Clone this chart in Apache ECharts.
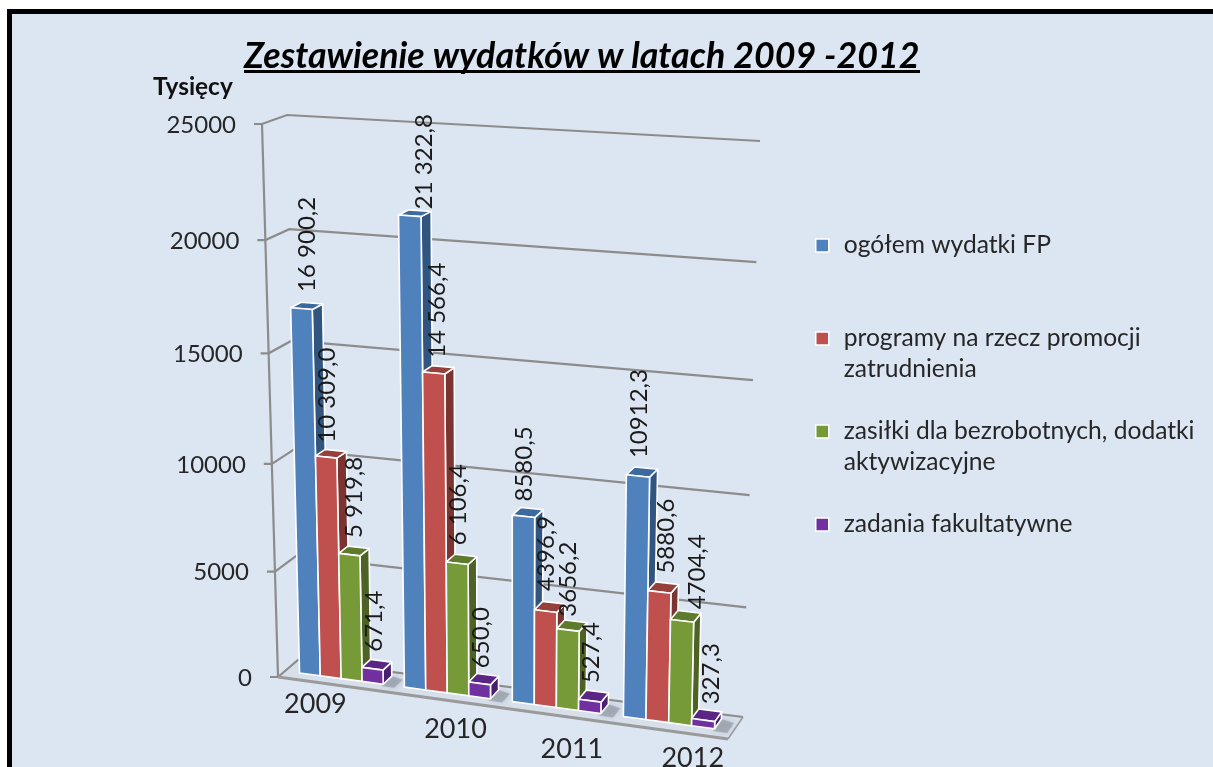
<!DOCTYPE html>
<html>
<head>
<meta charset="utf-8">
<title>Zestawienie wydatków</title>
<script src="https://cdn.jsdelivr.net/npm/echarts@6/dist/echarts.min.js"></script>
<style>
  html,body{margin:0;padding:0;background:#fff;overflow:hidden;}
  #chart{width:1213px;height:767px;}
</style>
</head>
<body>
<div id="chart"></div>
<script>
var years = ['2009', '2010', '2011', '2012'];
var yTicks = [0, 5000, 10000, 15000, 20000, 25000];

var ogolem = [16900.2, 21322.8, 8580.5, 10912.3];
var programy = [10309.0, 14566.4, 4396.9, 5880.6];
var zasilki = [5919.8, 6106.4, 3656.2, 4704.4];
var zadania = [671.4, 650.0, 527.4, 327.3];

var ogolemLabels = ['16 900,2', '21 322,8', '8580,5', '10912,3'];
var programyLabels = ['10 309,0', '14 566,4', '4396,9', '5880,6'];
var zasilkiLabels = ['5 919,8', '6 106,4', '3656,2', '4704,4'];
var zadaniaLabels = ['671,4', '650,0', '527,4', '327,3'];

var seriesNames = ['ogółem wydatki FP', 'programy na rzecz promocji zatrudnienia', 'zasiłki dla bezrobotnych, dodatki aktywizacyjne', 'zadania fakultatywne'];
var legendText = {
  'ogółem wydatki FP': '\nogółem wydatki FP\n ',
  'programy na rzecz promocji zatrudnienia': '\nprogramy na rzecz promocji\nzatrudnienia',
  'zasiłki dla bezrobotnych, dodatki aktywizacyjne': '\nzasiłki dla bezrobotnych, dodatki\naktywizacyjne',
  'zadania fakultatywne': '\nzadania fakultatywne\n '
};

var FONT = 'Lato';
var frontColor = ['#4F81BD', '#C0504D', '#769A38', '#7030A0'];
var topColor = ['#3C6A9E', '#96403D', '#5E7A2C', '#5A2585'];
var sideColor = ['#31557F', '#7C3432', '#4D6325', '#4A1F70'];

// the chart is a tilted box: unit square (u along the years, v up the values) -> picture
function makeQuad(bl, br, tr, tl) {
  var dx1 = br[0] - tr[0], dx2 = tl[0] - tr[0], sx = bl[0] - br[0] + tr[0] - tl[0];
  var dy1 = br[1] - tr[1], dy2 = tl[1] - tr[1], sy = bl[1] - br[1] + tr[1] - tl[1];
  var den = dx1 * dy2 - dx2 * dy1;
  var g = (sx * dy2 - dx2 * sy) / den, h = (dx1 * sy - sx * dy1) / den;
  var a = br[0] - bl[0] + g * br[0], b = tl[0] - bl[0] + h * tl[0], c = bl[0];
  var d = br[1] - bl[1] + g * br[1], e = tl[1] - bl[1] + h * tl[1], f = bl[1];
  return function (u, v) {
    var w = g * u + h * v + 1;
    return [(a * u + b * v + c) / w, (d * u + e * v + f) / w];
  };
}
var frontPlane = makeQuad([278, 677], [728, 739], [741, 154], [262, 124]);
var backPlane = makeQuad([298, 660], [743, 717], [760, 141], [287, 115]);

function project(u, v, depth) {
  var p = frontPlane(u, v), q = backPlane(u, v);
  return [p[0] + (q[0] - p[0]) * depth, p[1] + (q[1] - p[1]) * depth];
}
function toUnit(params, pt) {
  var cs = params.coordSys;
  return [(pt[0] - cs.x) / cs.width, (cs.y + cs.height - pt[1]) / cs.height];
}
// bars sit a little tighter than the floor
function squeeze(u) {
  return 0.4 + (u - 0.4) * 0.975;
}

var BAR_D0 = 0.35, BAR_D1 = 0.8;
// the labels and years were dragged by hand in the original
var yearShift = [[-16, -4], [15, 6], [19, 10], [24, 3]];
var labelShift = [
  [[1, 0], [9, 10], [-3, 3], [-3, 0]],
  [[-4, 3], [-1, 2], [-3, -2], [3, 0]],
  [[0, 1], [-3, 0], [-4, 5], [12, 7]],
  [[-2, 1], [-2, 3], [-2, 1], [5, 3]]
];

function poly(points, fill, stroke, lw, z2) {
  return {
    type: 'polygon', z2: z2 || 0,
    shape: { points: points },
    style: { fill: fill, stroke: stroke, lineWidth: lw, lineJoin: 'round' }
  };
}

function renderBar(params, api) {
  var s = params.seriesIndex - 2;
  var cat = api.value(0);
  var top = api.coord([cat, api.value(1)]);
  var band = api.size([1, 0])[0];
  var barW = band * 0.2;
  var left = toUnit(params, [top[0] + (s - 2) * barW, top[1]]);
  var right = toUnit(params, [top[0] + (s - 1) * barW, top[1]]);
  var u0 = squeeze(left[0]), u1 = squeeze(right[0]), v = left[1];
  var a = project(u0, 0, BAR_D0), b = project(u1, 0, BAR_D0);
  var c = project(u1, v, BAR_D0), d = project(u0, v, BAR_D0);
  var e = project(u1, 0, BAR_D1), f = project(u1, v, BAR_D1), g = project(u0, v, BAR_D1);
  var children = [];
  if (s === 3) {
    // soft shadow on the floor next to the last bar
    var g1 = project(u1, 0, BAR_D0 - 0.1), g2 = project(u1 + 0.03, 0, BAR_D0 - 0.1);
    var g3 = project(u1 + 0.03, 0, BAR_D1 - 0.1), g4 = project(u1, 0, BAR_D1);
    children.push({
      type: 'polygon', z2: -1,
      shape: { points: [g1, g2, g3, g4] },
      style: { fill: 'rgba(120,128,140,0.45)', shadowBlur: 5, shadowColor: 'rgba(120,128,140,0.6)' }
    });
  }
  children.push(poly([b, e, f, c], sideColor[s], '#fff', 1.6));
  children.push(poly([d, c, f, g], topColor[s], '#fff', 1.6));
  children.push(poly([a, b, c, d], frontColor[s], '#fff', 1.6));
  var anchor = project((u0 + u1) / 2, v, (BAR_D0 + BAR_D1) / 2);
  var shift = labelShift[s][cat];
  children.push({
    type: 'text', z2: 100,
    x: anchor[0] + shift[0], y: anchor[1] - 14 + shift[1], rotation: Math.PI / 2,
    style: {
      text: api.value(2), fill: '#1a1a1a', font: '24px ' + FONT,
      align: 'left', verticalAlign: 'middle'
    }
  });
  return { type: 'group', children: children };
}

function renderWall(params, api) {
  var val = api.value(1);
  var v = toUnit(params, api.coord([0, val]))[1];
  var p0 = project(0, v, 0), p1 = project(0, v, 1), p2 = project(1, v, 1);
  var children = [
    { type: 'polyline', shape: { points: [[p0[0] - 8, p0[1]], p0, p1, p2] }, style: { fill: 'none', stroke: '#8C8C8C', lineWidth: 2.2 } },
    {
      type: 'text', x: p0[0] - 26, y: p0[1] + 1,
      style: { text: String(val), fill: '#262626', font: '24px ' + FONT, align: 'right', verticalAlign: 'middle' }
    }
  ];
  if (val === 0) {
    var top = project(0, 1, 0);
    children.push({ type: 'line', shape: { x1: p0[0], y1: p0[1], x2: top[0], y2: top[1] }, style: { stroke: '#8C8C8C', lineWidth: 2.2 } });
    var fr = project(1, 0, 0), bk = project(1, 0, 1), bl = project(0, 0, 1);
    children.unshift(poly([p0, fr, bk, bl], '#D6DFEA', null, 0));
    children.push({ type: 'line', shape: { x1: fr[0], y1: fr[1], x2: bk[0], y2: bk[1] }, style: { stroke: '#9A9A9A', lineWidth: 1.5 } });
    children.push({ type: 'line', shape: { x1: p0[0], y1: p0[1], x2: fr[0], y2: fr[1] }, style: { stroke: '#9A9A9A', lineWidth: 3 } });
  }
  return { type: 'group', children: children };
}

function renderYear(params, api) {
  var cat = api.value(0);
  var pt = api.coord([cat, 0]);
  var u = toUnit(params, pt)[0];
  var p = project(u, 0, 0);
  return {
    type: 'text', x: p[0] + yearShift[cat][0], y: p[1] + 24 + yearShift[cat][1],
    style: { text: years[cat], fill: '#262626', font: '27px ' + FONT, align: 'center', verticalAlign: 'middle' }
  };
}

function barData(vals, labels) {
  return vals.map(function (v, i) { return [i, v, labels[i]]; });
}
function barSeries(idx, vals, labels) {
  return {
    name: seriesNames[idx], type: 'custom', renderItem: renderBar,
    itemStyle: { color: frontColor[idx] },
    encode: { x: 0, y: 1 },
    data: barData(vals, labels)
  };
}

var chart = echarts.init(document.getElementById('chart'));
chart.setOption({
  animation: false,
  backgroundColor: '#fff',
  graphic: [
    { type: 'rect', z: -10, shape: { x: 9.5, y: 11.5, width: 1400, height: 900 }, style: { fill: '#DCE6F2', stroke: '#000', lineWidth: 5 } },
    { type: 'rect', z: 10, shape: { x: 244, y: 70, width: 676, height: 3 }, style: { fill: '#000' } }
  ],
  title: [
    { text: 'Zestawienie wydatków w latach 2009 -2012', left: 244, top: 38, padding: 0,
      textStyle: { fontFamily: FONT, fontStyle: 'italic', fontWeight: 'bold', fontSize: 35.8, color: '#000' } },
    { text: 'Tysięcy', left: 153, top: 75, padding: 0,
      textStyle: { fontFamily: FONT, fontWeight: 'bold', fontSize: 24.4, color: '#111' } }
  ],
  legend: {
    orient: 'vertical', left: 815, top: 199, itemGap: 0, padding: 0,
    itemWidth: 13, itemHeight: 13, icon: 'rect', selectedMode: false,
    data: seriesNames,
    itemStyle: { borderColor: '#fff', borderWidth: 1.5 },
    formatter: function (name) { return legendText[name]; },
    textStyle: { fontFamily: FONT, fontSize: 24.6, lineHeight: 31, color: '#262626', padding: [0, 0, 0, 10] }
  },
  grid: { left: 278, top: 124, width: 450, height: 553 },
  xAxis: { type: 'category', data: years, show: false },
  yAxis: { type: 'value', min: 0, max: 25000, interval: 5000, show: false },
  series: [
    { type: 'custom', renderItem: renderWall, silent: true, z: 1, encode: { x: 0, y: 1 },
      data: yTicks.map(function (t) { return [0, t]; }) },
    { type: 'custom', renderItem: renderYear, silent: true, z: 1, encode: { x: 0, y: 1 },
      data: years.map(function (y, i) { return [i, 0]; }) },
    barSeries(0, ogolem, ogolemLabels),
    barSeries(1, programy, programyLabels),
    barSeries(2, zasilki, zasilkiLabels),
    barSeries(3, zadania, zadaniaLabels)
  ]
});
</script>
</body>
</html>
